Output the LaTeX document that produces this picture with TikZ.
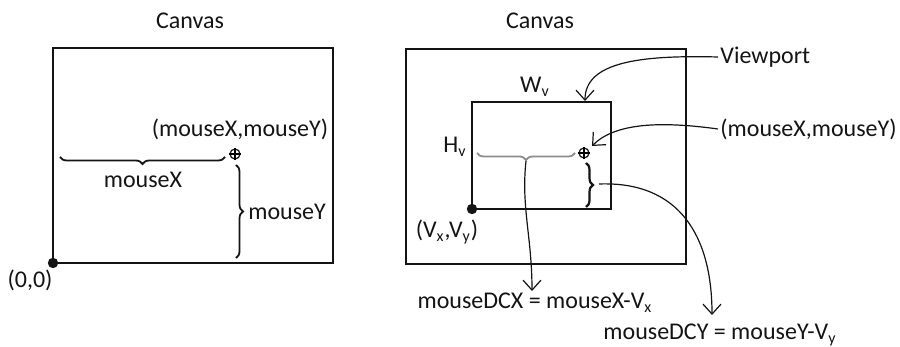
\documentclass[tikz,border=0pt]{standalone}
\usepackage{fontspec}
\setmainfont{Carlito}
\usetikzlibrary{arrows.meta,positioning,decorations.pathreplacing}
\definecolor{ink}{HTML}{141414}
\definecolor{ash}{HTML}{8C8C8C}
\colorlet{line}{ink}
\colorlet{soft}{ash}
\tikzset{
  frame/.style={draw=line,line width=1.4pt},
  lbl/.style={text=ink,inner sep=1pt},
  target/.style={circle,draw=line,line width=0.6pt,inner sep=0pt,minimum size=5pt},
  curly/.style={decorate,decoration={brace,amplitude=3.5pt},draw=line,line width=0.9pt},
  pointer/.style={draw=line,line width=0.6pt,-{Straight Barb[length=5pt,width=9pt]}},
}

\begin{document}
\begin{tikzpicture}[x=0.5pt,y=0.5pt,font=\fontsize{12}{14}\selectfont]
    \useasboundingbox (0,0) rectangle (900,347);
    % left canvas
    \draw[frame] (53,84) rectangle (333,299);
    \node[lbl] (titleL) at (190,326) {Canvas};
    \fill[line] (53,84) circle (2.6pt);
    \node[lbl] (origin) at (30,67) {(0,0)};
    \node[target] (ptL) at (235,193) {};
    \draw[line width=0.6pt] (ptL.north) -- (ptL.south) (ptL.west) -- (ptL.east);
    \node[lbl] (xyL) at (240,218) {(mouseX,mouseY)};
    \draw[curly] (225,190) -- (60,190);
    \node[lbl] (mxL) at (143,167) {mouseX};
    \draw[curly] (236,182) -- (236,89);
    \node[lbl,anchor=west] (myL) at (246,135) {mouseY};
    % right canvas
    \draw[frame] (406,83) rectangle (686,298);
    \node[lbl] (titleR) at (540,326) {Canvas};
    \draw[frame] (472,138) rectangle (611,245);
    \fill[line] (472,138) circle (2.6pt);
    \node[lbl] (vxy) at (447,115) {(V\textsubscript{x},V\textsubscript{y})};
    \node[lbl] (wv) at (535,260) {W\textsubscript{v}};
    \node[lbl] (hv) at (455,200) {H\textsubscript{v}};
    \node[target] (ptR) at (584,194) {};
    \draw[line width=0.6pt] (ptR.north) -- (ptR.south) (ptR.west) -- (ptR.east);
    \draw[curly,draw=soft] (575,194) -- (477,194);
    \draw[curly,line width=1.1pt] (586,184) -- (586,140);
    \coordinate (dcxTip) at (526,186);
    \coordinate (dcyTip) at (599,163);
    \coordinate (vpTop) at (585,246);
    \coordinate (ptHit) at (592,201);
    \node[lbl,anchor=west] (vp) at (718,290) {Viewport};
    \node[lbl,anchor=west] (xyR) at (718,218) {(mouseX,mouseY)};
    \node[lbl] (dcx) at (535,44) {mouseDCX = mouseX-V\textsubscript{x}};
    \node[lbl] (dcy) at (720,12) {mouseDCY = mouseY-V\textsubscript{y}};
    \draw[pointer] (vp.west) .. controls (640,292) and (585,285) .. (vpTop);
    \draw[pointer] (xyR.west) .. controls (660,226) and (615,224) .. (ptHit);
    \draw[pointer] (dcxTip) .. controls (521,140) and (532,110) .. (dcx.north -| 532,0);
    \draw[pointer] (dcyTip) .. controls (680,166) and (712,110) .. (712,32);
  \end{tikzpicture}
\end{document}
